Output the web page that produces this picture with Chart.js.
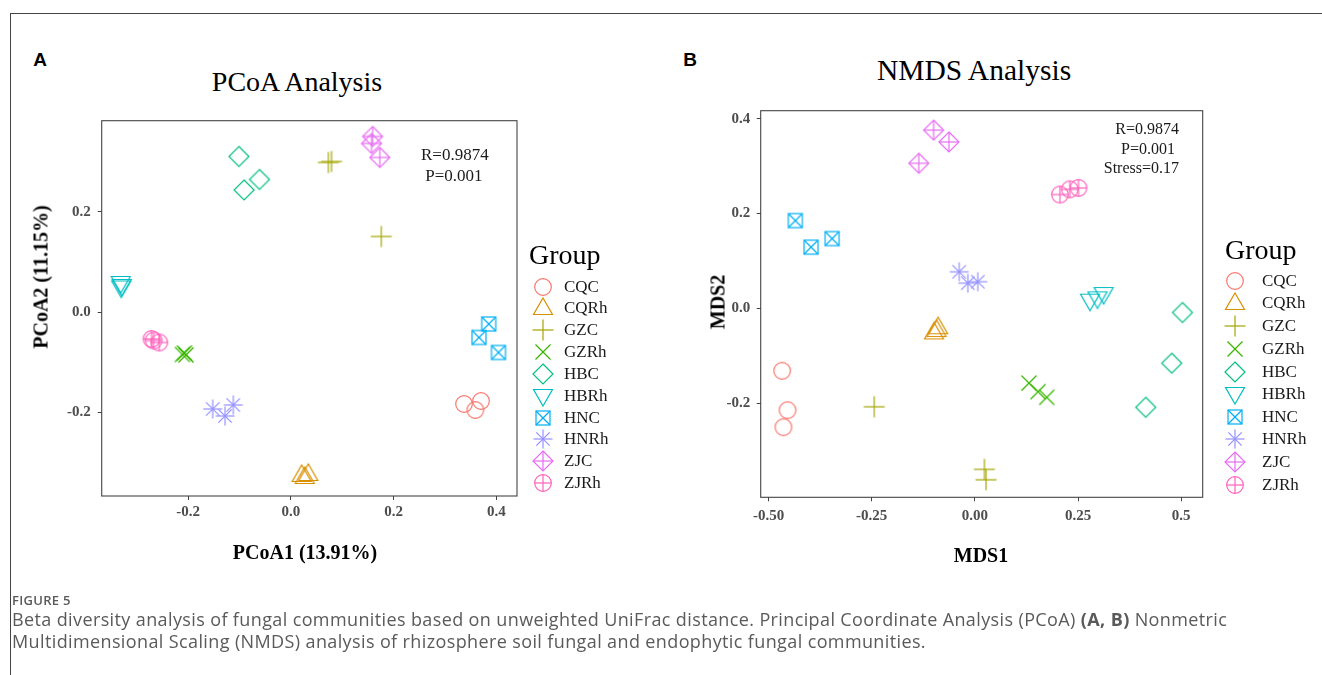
<!DOCTYPE html>
<html>
<head>
<meta charset="utf-8">
<script src="https://cdn.jsdelivr.net/npm/chart.js@4.4.1/dist/chart.umd.min.js"></script>
<style>
  body { margin: 0; width: 1322px; height: 675px; overflow: hidden; position: relative; background: #fff; font-family: 'Liberation Serif', 'Times New Roman', serif; }
  #frame { position: absolute; left: 10px; top: 13px; right: -2px; bottom: -2px; border-top: 1px solid #444; border-left: 1px solid #444; }
  canvas.plot { position: absolute; }
  .t { position: absolute; white-space: nowrap; transform: translate(-50%, -50%); color: #000; }
  .panel { font-family: 'Liberation Sans', Arial, sans-serif; font-weight: bold; font-size: 19px; }
  .title { font-size: 28px; }
  .axt { font-size: 20px; font-weight: bold; }
  .ann { position: absolute; font-size: 17px; color: #1a1a1a; white-space: nowrap; line-height: 21px; }
  .leg { position: absolute; }
  .leg .head { position: absolute; font-size: 28px; white-space: nowrap; transform: translateY(-50%); }
  .leg .row { position: absolute; white-space: nowrap; font-size: 17px; color: #1a1a1a; transform: translateY(-50%); }
  .leg canvas { position: absolute; }
  .cap { position: absolute; left: 12px; font-family: 'Open Sans', 'Noto Sans', sans-serif; color: #5a5a5a; white-space: nowrap; }
</style>
</head>
<body>
<div id="frame"></div>

<div class="t panel" style="left:40px; top:60px;">A</div>
<div class="t panel" style="left:690px; top:60px;">B</div>
<div class="t title" style="left:297px; top:82px;">PCoA Analysis</div>
<div class="t title" style="left:974px; top:70px; font-size:29.5px;">NMDS Analysis</div>

<canvas id="pcoa" class="plot"></canvas>
<canvas id="nmds" class="plot"></canvas>

<div class="t axt" style="left:305px; top:552px;">PCoA1 (13.91%)</div>
<div class="t axt" style="left:41px; top:277px; transform:translate(-50%,-50%) rotate(-90deg);">PCoA2 (11.15%)</div>
<div class="t axt" style="left:981px; top:555px;">MDS1</div>
<div class="t axt" style="left:718px; top:302px; transform:translate(-50%,-50%) rotate(-90deg);">MDS2</div>

<div class="ann" style="left:421px; top:144px;">R=0.9874<br>&nbsp;P=0.001</div>
<div class="ann" style="left:1040px; top:119px; width:139px; text-align:right; font-size:16px; line-height:19.5px;">R=0.9874<br>P=0.001&nbsp;<br>Stress=0.17</div>

<div id="leg1" class="leg"></div>
<div id="leg2" class="leg"></div>

<div class="cap" style="top:591px; font-size:13px; font-weight:600; letter-spacing:0.3px;">FIGURE 5</div>
<div class="cap" style="top:608px; font-size:18px; line-height:22px; letter-spacing:0.38px;">Beta diversity analysis of fungal communities based on unweighted UniFrac distance. Principal Coordinate Analysis (PCoA) <b>(A, B)</b> Nonmetric<br>Multidimensional Scaling (NMDS) analysis of rhizosphere soil fungal and endophytic fungal communities.</div>

<script>
// groups (R default hue palette, shapes 1..10)
const GROUPS = ['CQC', 'CQRh', 'GZC', 'GZRh', 'HBC', 'HBRh', 'HNC', 'HNRh', 'ZJC', 'ZJRh'];
const COLORS = ['#F8766D', '#D89000', '#A3A500', '#39B600', '#00BF7D', '#00BFC4', '#00B0F6', '#9590FF', '#E76BF3', '#FF62BC'];
const SHAPES = ['circle', 'triUp', 'plus', 'cross', 'diamond', 'triDown', 'squareX', 'asterisk', 'diamondPlus', 'circlePlus'];

// PCoA coordinates, 3 samples per group
const PCOA1 = [
  [0.337, 0.359, 0.370],
  [0.021, 0.034, 0.027],
  [0.073, 0.079, 0.176],
  [-0.211, -0.204, -0.207],
  [-0.101, -0.091, -0.061],
  [-0.331, -0.329, -0.330],
  [0.385, 0.366, 0.404],
  [-0.152, -0.128, -0.112],
  [0.159, 0.157, 0.173],
  [-0.271, -0.256, -0.267]
];
const PCOA2 = [
  [-0.184, -0.196, -0.178],
  [-0.326, -0.324, -0.330],
  [0.299, 0.301, 0.151],
  [-0.085, -0.086, -0.082],
  [0.311, 0.244, 0.265],
  [0.058, 0.052, 0.049],
  [-0.024, -0.051, -0.081],
  [-0.194, -0.208, -0.186],
  [0.351, 0.337, 0.309],
  [-0.054, -0.061, -0.057]
];

// NMDS coordinates
const MDS1 = [
  [-0.467, -0.454, -0.464],
  [-0.093, -0.089, -0.099],
  [-0.244, 0.023, 0.027],
  [0.131, 0.153, 0.174],
  [0.503, 0.477, 0.414],
  [0.279, 0.297, 0.312],
  [-0.435, -0.397, -0.346],
  [-0.038, -0.017, 0.007],
  [-0.100, -0.063, -0.136],
  [0.206, 0.230, 0.251]
];
const MDS2 = [
  [-0.132, -0.215, -0.251],
  [-0.046, -0.040, -0.051],
  [-0.208, -0.340, -0.362],
  [-0.158, -0.176, -0.188],
  [-0.009, -0.116, -0.209],
  [0.016, 0.021, 0.030],
  [0.185, 0.129, 0.147],
  [0.077, 0.053, 0.056],
  [0.376, 0.351, 0.306],
  [0.240, 0.251, 0.254]
];

const PCOA_X_TICKS = [-0.2, 0, 0.2, 0.4];
const PCOA_X_LABELS = ['-0.2', '0.0', '0.2', '0.4'];
const PCOA_Y_TICKS = [-0.2, 0, 0.2];
const PCOA_Y_LABELS = ['-0.2', '0.0', '0.2'];
const NMDS_X_TICKS = [-0.5, -0.25, 0, 0.25, 0.5];
const NMDS_X_LABELS = ['-0.50', '-0.25', '0.00', '0.25', '0.5'];
const NMDS_Y_TICKS = [-0.2, 0, 0.2, 0.4];
const NMDS_Y_LABELS = ['-0.2', '0.0', '0.2', '0.4'];

function drawMarker(ctx, shape, c, color) {
  ctx.strokeStyle = color;
  ctx.lineWidth = 1.2;
  const line = (x1, y1, x2, y2) => { ctx.beginPath(); ctx.moveTo(c + x1, c + y1); ctx.lineTo(c + x2, c + y2); ctx.stroke(); };
  const poly = (pts) => { ctx.beginPath(); pts.forEach((p, i) => i ? ctx.lineTo(c + p[0], c + p[1]) : ctx.moveTo(c + p[0], c + p[1])); ctx.closePath(); ctx.stroke(); };
  const circ = (r) => { ctx.beginPath(); ctx.arc(c, c, r, 0, Math.PI * 2); ctx.stroke(); };
  const plus = (a) => { line(-a, 0, a, 0); line(0, -a, 0, a); };
  const cross = (a) => { line(-a, -a, a, a); line(-a, a, a, -a); };
  const diamond = (a) => poly([[0, -a], [a, 0], [0, a], [-a, 0]]);
  switch (shape) {
    case 'circle': circ(8.3); break;
    case 'triUp': poly([[0, -10], [9.5, 6.5], [-9.5, 6.5]]); break;
    case 'triDown': poly([[0, 10], [9.5, -6.5], [-9.5, -6.5]]); break;
    case 'plus': plus(10.5); break;
    case 'cross': cross(7.5); break;
    case 'diamond': diamond(10); break;
    case 'squareX': ctx.strokeRect(c - 7, c - 7, 14, 14); cross(7); break;
    case 'asterisk': plus(9.5); cross(6.7); break;
    case 'diamondPlus': diamond(10); plus(10); break;
    case 'circlePlus': circ(8.3); plus(8.3); break;
  }
}

function markerImage(i) {
  const cv = document.createElement('canvas');
  cv.width = 30; cv.height = 30;
  drawMarker(cv.getContext('2d'), SHAPES[i], 15, COLORS[i]);
  return cv;
}

const boxPlugin = {
  id: 'panelBox',
  afterDraw(chart) {
    const a = chart.chartArea, ctx = chart.ctx;
    ctx.save();
    ctx.strokeStyle = '#444';
    ctx.lineWidth = 1.1;
    ctx.strokeRect(a.left, a.top, a.right - a.left, a.bottom - a.top);
    ctx.restore();
  }
};

function axisOpts(min, max, ticks, labels, fixSize, pad) {
  return {
    type: 'linear', min: min, max: max,
    afterBuildTicks: s => { s.ticks = ticks.map(v => ({ value: v })); },
    afterFit: s => {
      if (s.isHorizontal()) s.height = fixSize; else s.width = fixSize;
      s.paddingLeft = s.paddingRight = s.paddingTop = s.paddingBottom = 0;
    },
    ticks: {
      callback: (v, i) => labels[i],
      color: '#4d4d4d', padding: pad, maxRotation: 0,
      font: { family: "'Liberation Serif'", size: 15, weight: 'bold' }
    },
    grid: { drawOnChartArea: false, drawTicks: true, tickLength: 4, color: '#444', lineWidth: 1 },
    border: { display: false }
  };
}

// box = canvas placement on the page, area = wanted plot panel on the page
function scatterChart(id, box, area, xs, ys, xr, yr, xt, xl, yt, yl, xPad, yPad) {
  const cv = document.getElementById(id);
  cv.width = box.w; cv.height = box.h;
  cv.style.left = box.x + 'px'; cv.style.top = box.y + 'px';
  const YW = 60, XH = 40;
  const datasets = GROUPS.map((g, i) => ({
    label: g,
    data: xs[i].map((x, k) => ({ x: x, y: ys[i][k] })),
    pointStyle: markerImage(i),
    pointRadius: 9,
    borderColor: COLORS[i]
  }));
  return new Chart(cv, {
    type: 'scatter',
    data: { datasets: datasets },
    options: {
      responsive: false,
      animation: false,
      events: [],
      layout: { padding: {
        left: area.l - box.x - YW,
        top: area.t - box.y,
        right: box.x + box.w - area.r,
        bottom: box.y + box.h - area.b - XH
      } },
      plugins: { legend: { display: false }, tooltip: { enabled: false } },
      scales: {
        x: axisOpts(xr[0], xr[1], xt, xl, XH, xPad),
        y: axisOpts(yr[0], yr[1], yt, yl, YW, yPad)
      }
    },
    plugins: [boxPlugin]
  });
}

scatterChart('pcoa', { x: 0, y: 0, w: 660, h: 600 }, { l: 101.7, t: 120.7, r: 517, b: 496 },
  PCOA1, PCOA2, [-0.368, 0.440], [-0.368, 0.3826],
  PCOA_X_TICKS, PCOA_X_LABELS, PCOA_Y_TICKS, PCOA_Y_LABELS, 3, 7);

scatterChart('nmds', { x: 660, y: 0, w: 662, h: 600 }, { l: 760.7, t: 110.7, r: 1202.7, b: 497.3 },
  MDS1, MDS2, [-0.519, 0.552], [-0.399, 0.417],
  NMDS_X_TICKS, NMDS_X_LABELS, NMDS_Y_TICKS, NMDS_Y_LABELS, 6, 6.5);

function buildLegend(id, headX, headY, markX, labX, rowsY) {
  const el = document.getElementById(id);
  el.innerHTML = '<div class="head" style="left:' + headX + 'px; top:' + headY + 'px;">Group</div>';
  GROUPS.forEach((g, i) => {
    const m = markerImage(i);
    m.style.left = (markX - 15) + 'px';
    m.style.top = (rowsY[i] - 15) + 'px';
    el.appendChild(m);
    const d = document.createElement('div');
    d.className = 'row';
    d.style.left = labX + 'px';
    d.style.top = rowsY[i] + 'px';
    d.textContent = g;
    el.appendChild(d);
  });
}

buildLegend('leg1', 529, 255, 543, 564, [287, 308, 330, 352, 374, 396, 418, 439, 461, 483]);
buildLegend('leg2', 1225, 250, 1235, 1262, [281, 303, 326, 349, 372, 394, 417, 439, 462, 485]);
</script>
</body>
</html>
